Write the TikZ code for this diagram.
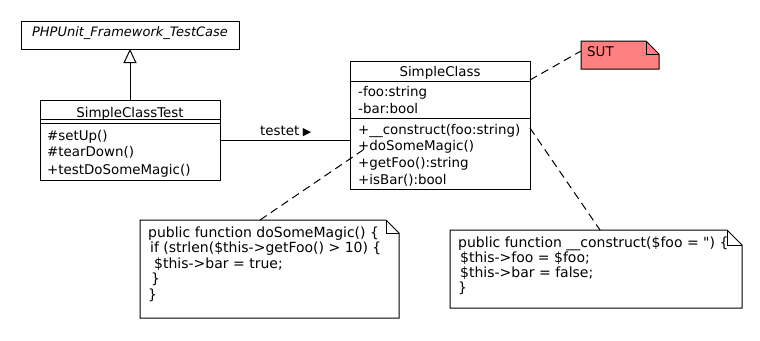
\documentclass[tikz,border=0pt]{standalone}
\usepackage{fontspec}
\setmainfont{DejaVu Sans}[Ligatures=TeXOff]
\usetikzlibrary{arrows.meta,calc}
\definecolor{sutfill}{RGB}{255,128,128}

% note with a folded top-right corner, drawn over the bounds of node #1
\newcommand\dogearnote[3]{%
  \draw[line width=1pt, fill=#3]
    (#1.north west) -- ($(#1.north east)+(-#2,0)$) -- ($(#1.north east)+(0,#2)$)
    -- (#1.south east) -- (#1.south west) -- cycle;
  \draw[line width=1pt] ($(#1.north east)+(-#2,0)$) -- ++(0,#2) -- ++(#2,0);
}

\begin{document}
\begin{tikzpicture}[x=1pt,y=-1pt,
  umlbox/.style={draw, line width=1pt, inner sep=0pt, outer sep=0pt, anchor=north west, fill=white},
  notearea/.style={inner sep=0pt, outer sep=0pt, anchor=north west},
  txt/.style={inner sep=0pt, anchor=base west, font=\fontsize{13.4}{15}\selectfont},
  ctxt/.style={inner sep=0pt, anchor=base, font=\fontsize{13.4}{15}\selectfont},
  ntxt/.style={inner sep=0pt, anchor=base west, font=\fontsize{14}{15}\selectfont},
  link/.style={line width=1pt},
  anchorline/.style={line width=1pt, dash pattern=on 8pt off 5pt},
]
\useasboundingbox (0,0) rectangle (760,340);
\fill[white] (0,0) rectangle (760,340);

% class boxes
\node[umlbox, minimum width=218pt, minimum height=28pt] (base) at (21,21) {};
\node[umlbox, minimum width=180pt, minimum height=80pt] (sct) at (40,100) {};
\node[umlbox, minimum width=180pt, minimum height=128pt] (sc) at (350,61) {};

% compartment separators
\draw[link] ($(sct.north west)+(0,19)$) -- ($(sct.north east)+(0,19)$);
\draw[link] ($(sct.north west)+(0,23)$) -- ($(sct.north east)+(0,23)$);
\draw[link] ($(sc.north west)+(0,20)$) -- ($(sc.north east)+(0,20)$);
\draw[link] ($(sc.north west)+(0,57)$) -- ($(sc.north east)+(0,57)$);

% class texts
\node[ctxt, font=\fontsize{13}{15}\selectfont\itshape] (baseName) at (130,36.7) {PHPUnit\_Framework\_TestCase};

\node[ctxt] (sctName) at (130,117.3) {SimpleClassTest};
\node[txt] (sctM1) at (47,140) {\#setUp()};
\node[txt] (sctM2) at (47,156.7) {\#tearDown()};
\node[txt] (sctM3) at (47,174) {+testDoSomeMagic()};

\node[ctxt] (scName) at (440,76.7) {SimpleClass};
\node[txt] (scA1) at (358,96.7) {-foo:string};
\node[txt] (scA2) at (358,113.3) {-bar:bool};
\node[txt] (scM1) at (358,134) {+\_\_construct(foo:string)};
\node[txt] (scM2) at (358,150.7) {+doSomeMagic()};
\node[txt] (scM3) at (358,167.7) {+getFoo():string};
\node[txt] (scM4) at (358,184) {+isBar():bool};

% notes
\node[notearea, minimum width=78pt, minimum height=28pt] (sut) at (581,41) {};
\dogearnote{sut}{13}{sutfill}
\node[txt] (sutText) at (587,56.7) {SUT};

\node[notearea, minimum width=259pt, minimum height=98pt] (note1) at (140,220) {};
\dogearnote{note1}{13}{white}
\node[ntxt] (n1l1) at (148,237) {public function doSomeMagic() \{};
\node[ntxt] (n1l2) at (150,252.5) {if (strlen(\$this->getFoo() > 10) \{};
\node[ntxt] (n1l3) at (154,268) {\$this->bar = true;};
\node[ntxt] (n1l4) at (151,283.5) {\}};
\node[ntxt] (n1l5) at (148,299) {\}};

\node[notearea, minimum width=292pt, minimum height=78pt] (note2) at (450,230) {};
\dogearnote{note2}{15}{white}
\node[ntxt] (n2l1) at (458,247) {public function \_\_construct(\$foo = ") \{};
\node[ntxt] (n2l2) at (460,262) {\$this->foo = \$foo;};
\node[ntxt] (n2l3) at (460,277) {\$this->bar = false;};
\node[ntxt] (n2l4) at (458,292) {\}};

% relations
\draw[link, -{Triangle[open, length=14pt, width=13pt, line width=1pt]}]
  (sct.north) -- (sct.north |- base.south);
\draw[link] (sct.east) -- (sct.east -| sc.west);
\node[txt] (assocLabel) at (260,135.7) {testet};
\node[inner sep=0pt, anchor=base west, font=\fontsize{11}{11}\selectfont] (assocDir) at (assocLabel.base east) {\hspace{3pt}▶};

% note anchors
\draw[anchorline] ($(sc.north east)+(0,19)$) -- ($(sut.north west)+(0,10)$);
\draw[anchorline] ($(note1.north west)+(120,0)$) -- ($(sc.north west)+(13,89)$);
\draw[anchorline] ($(sc.north east)+(0,67)$) -- ($(note2.north west)+(150,0)$);
\end{tikzpicture}
\end{document}
